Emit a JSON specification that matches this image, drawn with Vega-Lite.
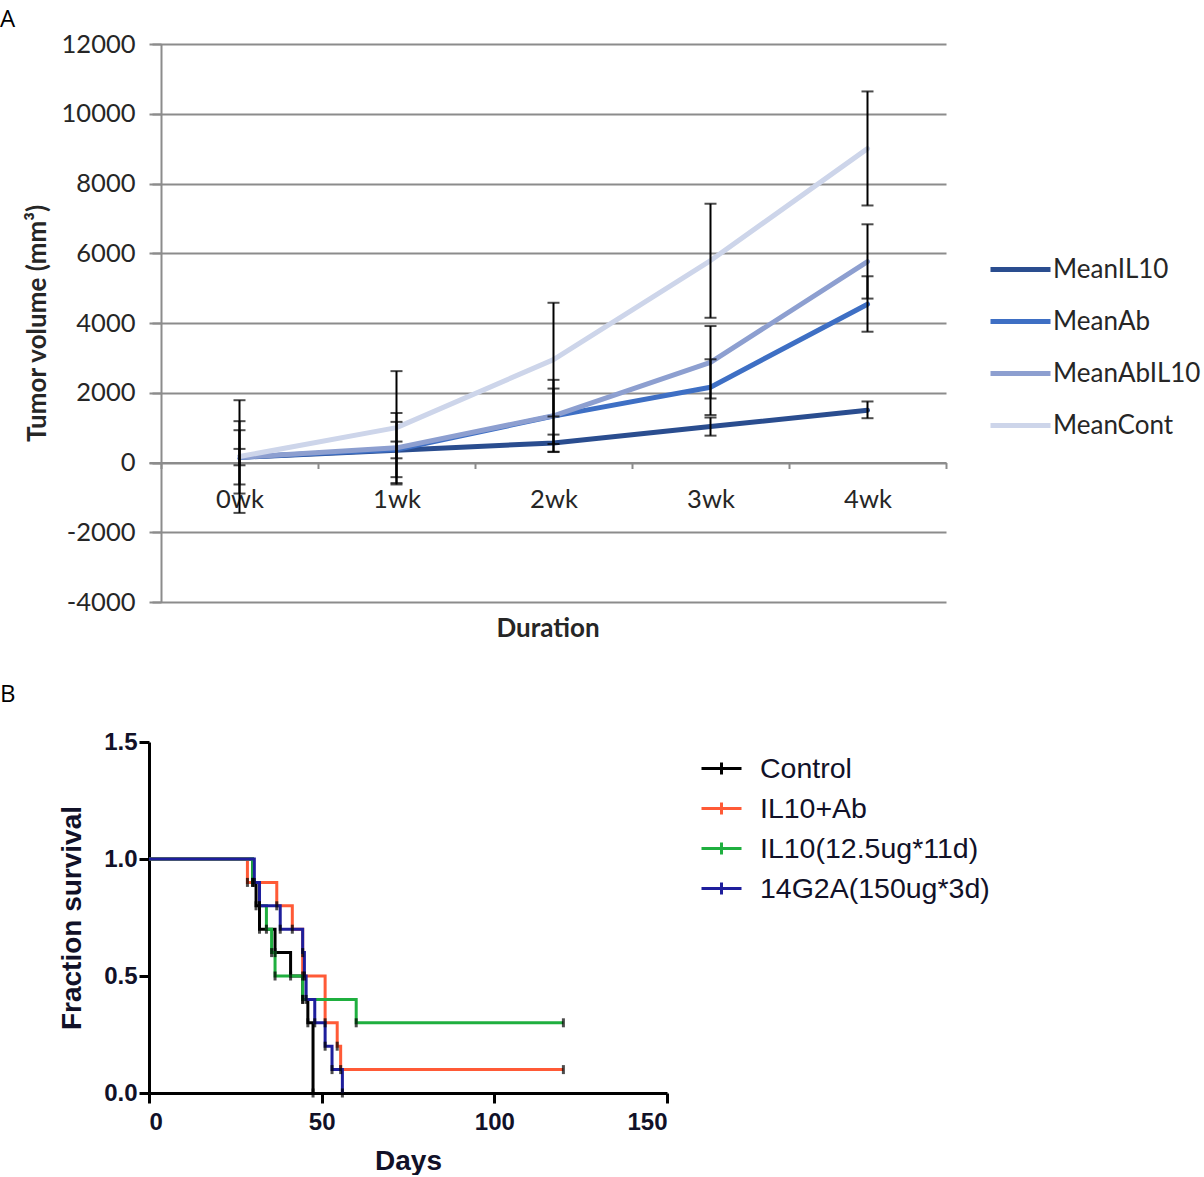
{
  "$schema": "https://vega.github.io/schema/vega-lite/v6.json",
  "background": "white",
  "padding": {"left": 0, "top": 8, "right": 0, "bottom": 0},
  "spacing": 41,
  "config": {"view": {"stroke": null}},
  "resolve": {"scale": {"color": "independent"}, "legend": {"color": "independent"}},
  "vconcat": [
    {
      "width": 797,
      "height": 558,
      "title": {"text": "A", "anchor": "start", "frame": "group", "dx": -149, "offset": 0, "font": "Open Sans", "fontSize": 24, "fontWeight": "normal", "color": "black"},
      "data": {"values": [
        {"week": "0wk", "series": "MeanIL10", "mean": 150, "lo": -80, "hi": 390},
        {"week": "1wk", "series": "MeanIL10", "mean": 350, "lo": 120, "hi": 600},
        {"week": "2wk", "series": "MeanIL10", "mean": 560, "lo": 310, "hi": 800},
        {"week": "3wk", "series": "MeanIL10", "mean": 1030, "lo": 770, "hi": 1290},
        {"week": "4wk", "series": "MeanIL10", "mean": 1500, "lo": 1270, "hi": 1750},
        {"week": "0wk", "series": "MeanAb", "mean": 150, "lo": -630, "hi": 926},
        {"week": "1wk", "series": "MeanAb", "mean": 370, "lo": -420, "hi": 1165},
        {"week": "2wk", "series": "MeanAb", "mean": 1330, "lo": 530, "hi": 2120},
        {"week": "3wk", "series": "MeanAb", "mean": 2160, "lo": 1360, "hi": 2960},
        {"week": "4wk", "series": "MeanAb", "mean": 4540, "lo": 3750, "hi": 5340},
        {"week": "0wk", "series": "MeanAbIL10", "mean": 150, "lo": -890, "hi": 1185},
        {"week": "1wk", "series": "MeanAbIL10", "mean": 420, "lo": -590, "hi": 1420},
        {"week": "2wk", "series": "MeanAbIL10", "mean": 1340, "lo": 300, "hi": 2370},
        {"week": "3wk", "series": "MeanAbIL10", "mean": 2870, "lo": 1836, "hi": 3913},
        {"week": "4wk", "series": "MeanAbIL10", "mean": 5760, "lo": 4700, "hi": 6830},
        {"week": "0wk", "series": "MeanCont", "mean": 170, "lo": -1445, "hi": 1786},
        {"week": "1wk", "series": "MeanCont", "mean": 1000, "lo": -630, "hi": 2620},
        {"week": "2wk", "series": "MeanCont", "mean": 2950, "lo": 1320, "hi": 4580},
        {"week": "3wk", "series": "MeanCont", "mean": 5790, "lo": 4150, "hi": 7420},
        {"week": "4wk", "series": "MeanCont", "mean": 9000, "lo": 7370, "hi": 10640}
      ]},
      "encoding": {
        "x": {
          "field": "week", "type": "nominal", "sort": ["0wk", "1wk", "2wk", "3wk", "4wk"],
          "scale": {"paddingInner": 0, "paddingOuter": 0.0382, "align": 1},
          "axis": {
            "title": "Duration", "offset": -139.5, "tickBand": "extent",
            "domainColor": "#8c8c8c", "domainWidth": 2, "tickColor": "#8c8c8c", "tickWidth": 2, "tickSize": 6,
            "labelAngle": 0, "labelFont": "Lato", "labelFontSize": 25.5, "labelColor": "#262626", "labelPadding": 19,
            "titleFont": "Lato", "titleFontSize": 26, "titleFontWeight": "bold", "titleColor": "#262626",
            "titleY": 166, "titleBaseline": "middle"
          }
        }
      },
      "layer": [
        {
          "mark": {"type": "line", "strokeWidth": 5, "strokeCap": "round", "strokeJoin": "round"},
          "encoding": {
            "y": {
              "field": "mean", "type": "quantitative",
              "scale": {"domain": [-4000, 12000], "nice": false},
              "axis": {
                "title": "Tumor volume (mm³)", "values": [-4000, -2000, 0, 2000, 4000, 6000, 8000, 10000, 12000], "format": "d",
                "labelExpr": "replace(datum.label, '−', '-')",
                "offset": -12, "grid": true, "gridColor": "#8c8c8c", "gridWidth": 2,
                "domainColor": "#8c8c8c", "domainWidth": 2, "tickColor": "#8c8c8c", "tickWidth": 2, "tickSize": 9,
                "labelFont": "Lato", "labelFontSize": 25.5, "labelColor": "#262626", "labelPadding": 17,
                "titleFont": "Lato", "titleFontSize": 26, "titleFontWeight": "bold", "titleColor": "#262626", "titlePadding": 11
              }
            },
            "color": {
              "field": "series", "type": "nominal",
              "scale": {"domain": ["MeanIL10", "MeanAb", "MeanAbIL10", "MeanCont"], "range": ["#2a4d8f", "#3e6fc4", "#8d9fd0", "#cdd5ea"]},
              "legend": {
                "title": null, "orient": "none", "legendX": 849, "legendY": 203, "padding": 0,
                "symbolType": "M-1.5,0H1.5", "symbolSize": 1600, "symbolStrokeWidth": 5,
                "labelFont": "Lato", "labelFontSize": 26, "labelColor": "#262626", "labelOffset": 10, "rowPadding": 16, "labelLimit": 300
              }
            }
          }
        },
        {
          "mark": {"type": "rule", "color": "black", "strokeWidth": 2},
          "encoding": {"y": {"field": "lo", "type": "quantitative"}, "y2": {"field": "hi"}}
        },
        {
          "mark": {"type": "tick", "color": "black", "thickness": 2, "size": 12, "orient": "horizontal"},
          "encoding": {"y": {"field": "lo", "type": "quantitative"}}
        },
        {
          "mark": {"type": "tick", "color": "black", "thickness": 2, "size": 12, "orient": "horizontal"},
          "encoding": {"y": {"field": "hi", "type": "quantitative"}}
        }
      ]
    },
    {
      "width": 518,
      "height": 351,
      "title": {"text": "B", "anchor": "start", "frame": "group", "dx": -149, "offset": 23, "font": "Open Sans", "fontSize": 24, "fontWeight": "normal", "color": "black"},
      "data": {"values": [
        {"group": "Control", "day": 0, "surv": 1.0, "event": "start"},
        {"group": "Control", "day": 30, "surv": 0.9, "event": "death"},
        {"group": "Control", "day": 31, "surv": 0.8, "event": "death"},
        {"group": "Control", "day": 32, "surv": 0.7, "event": "death"},
        {"group": "Control", "day": 36.5, "surv": 0.6, "event": "death"},
        {"group": "Control", "day": 41, "surv": 0.5, "event": "death"},
        {"group": "Control", "day": 44.5, "surv": 0.4, "event": "death"},
        {"group": "Control", "day": 46, "surv": 0.3, "event": "death"},
        {"group": "Control", "day": 47.5, "surv": 0.0, "event": "death"},
        {"group": "IL10+Ab", "day": 0, "surv": 1.0, "event": "start"},
        {"group": "IL10+Ab", "day": 28.5, "surv": 0.9, "event": "death"},
        {"group": "IL10+Ab", "day": 37, "surv": 0.8, "event": "death"},
        {"group": "IL10+Ab", "day": 41.5, "surv": 0.7, "event": "death"},
        {"group": "IL10+Ab", "day": 44.5, "surv": 0.5, "event": "death"},
        {"group": "IL10+Ab", "day": 51, "surv": 0.3, "event": "death"},
        {"group": "IL10+Ab", "day": 54.5, "surv": 0.2, "event": "death"},
        {"group": "IL10+Ab", "day": 55.5, "surv": 0.1, "event": "death"},
        {"group": "IL10+Ab", "day": 120, "surv": 0.1, "event": "censor"},
        {"group": "IL10(12.5ug*11d)", "day": 0, "surv": 1.0, "event": "start"},
        {"group": "IL10(12.5ug*11d)", "day": 30, "surv": 0.9, "event": "death"},
        {"group": "IL10(12.5ug*11d)", "day": 32, "surv": 0.8, "event": "death"},
        {"group": "IL10(12.5ug*11d)", "day": 34, "surv": 0.7, "event": "death"},
        {"group": "IL10(12.5ug*11d)", "day": 35.5, "surv": 0.6, "event": "death"},
        {"group": "IL10(12.5ug*11d)", "day": 36.5, "surv": 0.5, "event": "death"},
        {"group": "IL10(12.5ug*11d)", "day": 44.5, "surv": 0.4, "event": "death"},
        {"group": "IL10(12.5ug*11d)", "day": 60, "surv": 0.3, "event": "death"},
        {"group": "IL10(12.5ug*11d)", "day": 120, "surv": 0.3, "event": "censor"},
        {"group": "14G2A(150ug*3d)", "day": 0, "surv": 1.0, "event": "start"},
        {"group": "14G2A(150ug*3d)", "day": 30.5, "surv": 0.9, "event": "death"},
        {"group": "14G2A(150ug*3d)", "day": 32, "surv": 0.8, "event": "death"},
        {"group": "14G2A(150ug*3d)", "day": 38, "surv": 0.7, "event": "death"},
        {"group": "14G2A(150ug*3d)", "day": 44.5, "surv": 0.6, "event": "death"},
        {"group": "14G2A(150ug*3d)", "day": 45, "surv": 0.5, "event": "death"},
        {"group": "14G2A(150ug*3d)", "day": 45.5, "surv": 0.4, "event": "death"},
        {"group": "14G2A(150ug*3d)", "day": 48, "surv": 0.3, "event": "death"},
        {"group": "14G2A(150ug*3d)", "day": 51, "surv": 0.2, "event": "death"},
        {"group": "14G2A(150ug*3d)", "day": 53, "surv": 0.1, "event": "death"},
        {"group": "14G2A(150ug*3d)", "day": 56, "surv": 0.0, "event": "death"}
      ]},
      "encoding": {
        "x": {
          "field": "day", "type": "quantitative",
          "scale": {"domain": [0, 150], "nice": false},
          "axis": {
            "title": "Days", "values": [0, 50, 100, 150], "grid": false,
            "domainColor": "black", "domainWidth": 3, "tickColor": "black", "tickWidth": 3, "tickSize": 10,
            "labelFont": "Liberation Sans", "labelFontSize": 24, "labelFontWeight": "bold", "labelColor": "#111128", "labelPadding": 7,
            "titleFont": "Liberation Sans", "titleFontSize": 28, "titleFontWeight": "bold", "titleColor": "#111128", "titlePadding": 13
          }
        },
        "y": {
          "field": "surv", "type": "quantitative",
          "scale": {"domain": [0, 1.5], "nice": false},
          "axis": {
            "title": "Fraction survival", "values": [0, 0.5, 1, 1.5], "format": ".1f", "grid": false,
            "domainColor": "black", "domainWidth": 3, "tickColor": "black", "tickWidth": 3, "tickSize": 10,
            "labelFont": "Liberation Sans", "labelFontSize": 24, "labelFontWeight": "bold", "labelColor": "#111128", "labelPadding": 2,
            "titleFont": "Liberation Sans", "titleFontSize": 28, "titleFontWeight": "bold", "titleColor": "#111128", "titlePadding": 17
          }
        }
      },
      "layer": [
        {
          "mark": {"type": "line", "interpolate": "step-after", "strokeWidth": 3},
          "encoding": {
            "color": {
              "field": "group", "type": "nominal",
              "scale": {"domain": ["Control", "IL10+Ab", "IL10(12.5ug*11d)", "14G2A(150ug*3d)"], "range": ["#000000", "#ff5a36", "#1faf3f", "#1e1e9c"]},
              "legend": {
                "title": null, "orient": "none", "legendX": 551, "legendY": 5, "padding": 0,
                "symbolType": "M-1,0H1M0,-0.3V0.3", "symbolSize": 1600, "symbolStrokeWidth": 3,
                "labelFont": "Liberation Sans", "labelFontSize": 28.5, "labelColor": "#111128", "labelOffset": 17, "rowPadding": 4, "labelLimit": 400
              }
            }
          }
        },
        {
          "transform": [{"filter": "datum.event != 'start'"}],
          "mark": {"type": "tick", "color": "black", "thickness": 3, "size": 9, "orient": "vertical"},
          "encoding": {}
        }
      ]
    }
  ]
}
